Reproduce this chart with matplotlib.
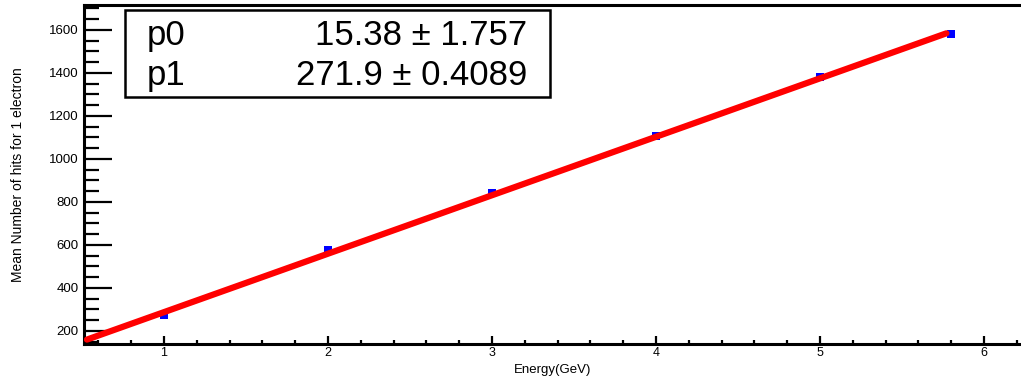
import matplotlib
matplotlib.use("Agg")
import matplotlib.pyplot as plt
from matplotlib.patches import Rectangle
from matplotlib.ticker import MultipleLocator

plt.rcParams["font.family"] = ["Liberation Sans", "DejaVu Sans"]

# measured mean hits per energy point
energy = [1.0, 2.0, 3.0, 4.0, 5.0, 5.8]
mean_hits = [274, 576, 842, 1107, 1380, 1580]
hit_err = [2, 2, 2, 2, 2, 2]

# linear fit result
p0, p0_err = 15.38, 1.757
p1, p1_err = 271.9, 0.4089
fit_range = [0.53, 5.77]

fig = plt.figure(figsize=(10.21, 3.77), dpi=100)
ax = fig.add_axes([84 / 1021, 33 / 377, 1 - 84 / 1021, (344 - 5) / 377])

ax.errorbar(energy, mean_hits, yerr=hit_err, fmt="s", color="#0000ff",
            ms=6, mew=0, elinewidth=1, capsize=0, zorder=2)
fx = fit_range
fy = [p0 + p1 * x for x in fx]
ax.plot(fx, fy, color="#ff0000", lw=4.5, solid_capstyle="round", zorder=3)

ax.set_xlim(0.512, 6.225)
ax.set_ylim(139, 1716)

ax.xaxis.set_major_locator(MultipleLocator(1))
ax.xaxis.set_minor_locator(MultipleLocator(0.2))
ax.yaxis.set_major_locator(MultipleLocator(200))
ax.yaxis.set_minor_locator(MultipleLocator(50))

ax.tick_params(axis="y", which="major", direction="in", length=20, width=1.6,
               labelsize=9.5, pad=4)
ax.tick_params(axis="x", which="major", direction="in", length=6, width=1.6,
               labelsize=9, pad=2.5)
ax.tick_params(axis="y", which="minor", direction="in", length=11, width=1.6)
ax.tick_params(axis="x", which="minor", direction="in", length=3, width=1.6)

for side in ("left", "bottom", "top"):
    ax.spines[side].set_linewidth(2.2)
ax.spines["right"].set_visible(False)

ax.set_xlabel("Energy(GeV)", fontsize=9.5, labelpad=3)
ax.set_ylabel("Mean Number of hits for 1 electron", fontsize=10, labelpad=17)

# fit parameter box
W, H = 1021, 377
box = Rectangle((125 / W, 1 - 97 / H), (550 - 125) / W, (97 - 10) / H,
                transform=fig.transFigure, fill=True, facecolor="white",
                edgecolor="black", lw=1.8, zorder=5)
fig.patches.append(box)
rows = [("p0", f"{p0:.2f} ± {p0_err}"), ("p1", f"{p1} ± {p1_err}")]
for (name, val), yb in zip(rows, [45, 85]):
    fig.text(147 / W, 1 - yb / H, name, fontsize=25, ha="left", va="baseline",
             zorder=6)
    fig.text(527 / W, 1 - yb / H, val, fontsize=25, ha="right", va="baseline",
             zorder=6)

fig.savefig("out.png", dpi=100)
